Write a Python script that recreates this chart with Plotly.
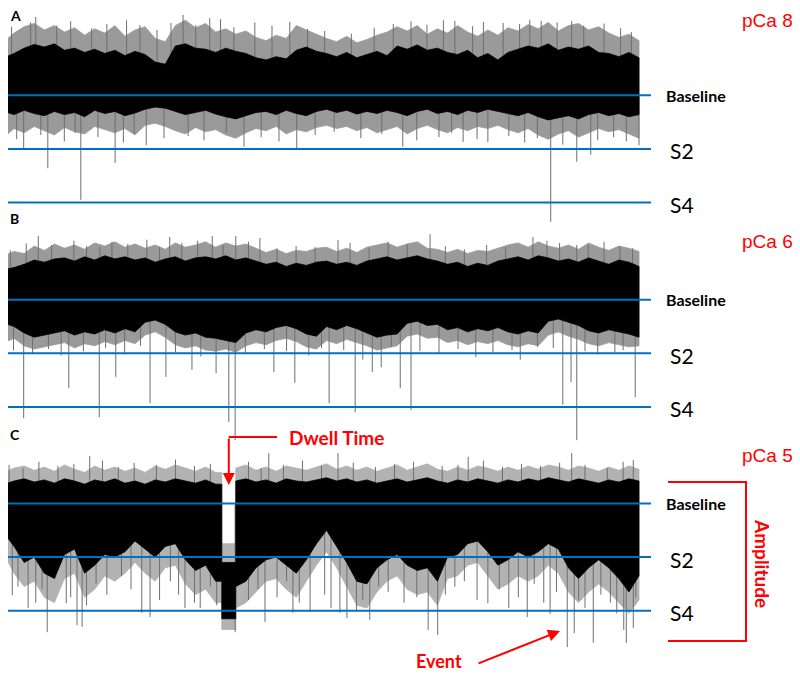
import numpy as np
import plotly.graph_objects as go

# ---------------- data (levels: Baseline = 0, S2 = -1, S4 = -2) ----------------
DURATION = 10.0  # s, length of each recording shown

# Panel A  (pCa 8)
a_core_top = [0.70,0.78,0.88,0.95,0.90,0.96,0.84,0.88,0.80,0.86,0.78,0.84,0.74,0.82,0.76,0.62,
              0.58,0.92,0.96,0.88,0.86,0.80,0.88,0.82,0.78,0.70,0.66,0.72,0.68,0.84,0.90,0.82,
              0.78,0.72,0.80,0.70,0.76,0.82,0.74,0.92,0.86,0.94,0.84,0.88,0.80,0.76,0.84,0.70,
              0.78,0.66,0.80,0.86,0.92,0.88,0.96,0.84,0.90,0.86,0.92,0.80,0.78,0.72,0.80,0.70]
a_core_bot = [-0.30,-0.36,-0.28,-0.34,-0.38,-0.30,-0.36,-0.32,-0.40,-0.28,-0.34,-0.30,-0.38,-0.33,-0.26,-0.22,
              -0.24,-0.30,-0.36,-0.32,-0.28,-0.35,-0.40,-0.44,-0.38,-0.32,-0.30,-0.36,-0.28,-0.34,-0.38,-0.30,
              -0.26,-0.32,-0.28,-0.35,-0.30,-0.34,-0.28,-0.32,-0.38,-0.30,-0.26,-0.34,-0.30,-0.36,-0.28,-0.32,
              -0.26,-0.30,-0.34,-0.38,-0.32,-0.40,-0.46,-0.42,-0.38,-0.44,-0.36,-0.32,-0.38,-0.34,-0.40,-0.36]
a_fringe_top = [1.00,1.16,1.28,1.34,1.22,1.30,1.18,1.26,1.12,1.24,1.16,1.30,1.10,1.22,1.28,1.06,
                1.00,1.30,1.40,1.26,1.34,1.18,1.24,1.14,1.20,1.08,1.02,1.12,1.06,1.30,1.22,1.14,
                1.06,1.00,1.10,0.98,1.04,1.12,1.18,1.28,1.20,1.30,1.14,1.24,1.16,1.30,1.18,1.10,
                1.22,1.12,1.26,1.20,1.32,1.24,1.36,1.20,1.30,1.34,1.22,1.28,1.16,1.08,1.14,1.02]
a_fringe_bot = [-0.78,-0.62,-0.70,-0.58,-0.66,-0.74,-0.60,-0.68,-0.72,-0.58,-0.64,-0.70,-0.62,-0.74,-0.56,-0.52,
                -0.58,-0.66,-0.72,-0.60,-0.68,-0.64,-0.74,-0.80,-0.70,-0.62,-0.66,-0.58,-0.72,-0.64,-0.68,-0.60,
                -0.56,-0.62,-0.58,-0.66,-0.60,-0.70,-0.64,-0.58,-0.72,-0.62,-0.56,-0.64,-0.70,-0.60,-0.66,-0.58,
                -0.62,-0.56,-0.64,-0.70,-0.62,-0.74,-0.82,-0.72,-0.66,-0.78,-0.70,-0.62,-0.68,-0.64,-0.72,-0.80]
a_spike_t = [0.00,0.31,0.69,1.21,1.75,2.24,3.78,4.61,6.28,7.23,7.62,8.61,9.02,9.24,10.0,
             0.50,2.14,2.82,3.24,4.50,6.13,7.10,7.86,8.46,8.94,
             0.12,0.42,0.83,1.05,1.38,1.62,1.93,2.41,2.63,3.02,3.41,3.62,3.95,4.22,4.78,5.05,5.47,5.83,
             6.41,6.66,6.92,7.38,7.55,8.12,8.28,8.71,9.13,9.45,9.71,9.88,
             0.20,0.58,0.95,1.12,1.48,1.88,2.05,2.52,2.90,3.15,3.50,4.05,4.33,4.90,5.20,5.62,5.95,6.50,
             6.85,7.05,7.45,7.95,8.20,8.40,8.80,9.35,9.60,9.80]
a_spike_tip = [-0.78,-1.02,-1.36,-1.95,-1.26,-0.93,-0.96,-1.02,-0.96,-0.87,-0.87,-2.36,-1.24,-1.11,-0.93,
               1.46,1.31,1.50,1.44,1.37,1.33,1.39,1.35,1.39,1.39,
               1.28,1.36,1.30,1.38,1.25,1.33,1.40,1.22,1.35,1.31,1.42,1.27,1.36,1.30,1.24,1.20,1.15,1.26,
               1.38,1.32,1.40,1.29,1.37,1.33,1.41,1.36,1.30,1.34,1.25,1.18,
               -0.82,-0.74,-0.86,-0.70,-0.78,-0.88,-0.72,-0.80,-0.76,-0.84,-0.70,-0.78,-0.86,-0.74,-0.68,-0.80,-0.72,-0.84,
               -0.78,-0.70,-0.82,-0.76,-0.88,-0.80,-0.92,-0.84,-0.78,-0.86]

# Panel B  (pCa 6)
b_core_top = [0.56,0.60,0.66,0.74,0.70,0.76,0.78,0.72,0.80,0.74,0.82,0.76,0.80,0.74,0.78,0.70,
              0.76,0.80,0.72,0.78,0.80,0.76,0.82,0.74,0.78,0.72,0.66,0.70,0.62,0.68,0.64,0.70,
              0.72,0.66,0.70,0.64,0.72,0.76,0.80,0.74,0.78,0.82,0.76,0.72,0.66,0.70,0.62,0.68,
              0.64,0.72,0.76,0.80,0.74,0.82,0.78,0.72,0.76,0.70,0.78,0.72,0.66,0.74,0.70,0.62]
b_core_bot = [-0.44,-0.50,-0.62,-0.70,-0.66,-0.62,-0.58,-0.66,-0.60,-0.64,-0.56,-0.62,-0.54,-0.60,-0.42,-0.38,
              -0.46,-0.60,-0.66,-0.62,-0.70,-0.72,-0.76,-0.80,-0.62,-0.56,-0.60,-0.52,-0.48,-0.54,-0.64,-0.68,
              -0.50,-0.56,-0.48,-0.54,-0.62,-0.70,-0.66,-0.64,-0.44,-0.40,-0.48,-0.46,-0.56,-0.52,-0.60,-0.54,
              -0.58,-0.52,-0.60,-0.64,-0.58,-0.62,-0.40,-0.36,-0.42,-0.48,-0.58,-0.62,-0.56,-0.60,-0.64,-0.70]
b_fringe_top = [0.82,0.90,0.86,1.00,0.92,1.04,0.96,1.02,0.94,1.06,1.00,1.08,0.98,1.04,0.96,1.02,
                0.94,1.06,0.98,1.02,1.08,0.98,1.06,1.00,1.04,0.96,0.88,0.94,0.86,0.92,0.90,0.96,
                0.98,0.90,0.96,0.88,0.98,1.02,1.06,0.98,1.04,1.08,0.96,0.94,0.88,0.94,0.86,0.92,
                0.90,0.96,1.02,1.06,0.98,1.08,1.00,0.96,1.02,0.94,1.06,0.98,0.92,1.00,0.96,0.90]
b_fringe_bot = [-0.80,-0.72,-0.86,-0.92,-0.88,-0.84,-0.80,-0.90,-0.82,-0.86,-0.78,-0.84,-0.76,-0.82,-0.66,-0.60,
                -0.70,-0.84,-0.90,-0.86,-0.94,-0.96,-0.92,-0.98,-0.86,-0.80,-0.84,-0.76,-0.72,-0.78,-0.88,-0.92,
                -0.76,-0.82,-0.74,-0.80,-0.86,-0.94,-0.90,-0.86,-0.68,-0.64,-0.72,-0.70,-0.80,-0.76,-0.84,-0.78,
                -0.82,-0.76,-0.84,-0.88,-0.82,-0.86,-0.66,-0.60,-0.68,-0.74,-0.82,-0.86,-0.80,-0.84,-0.88,-0.86]
b_spike_t = [0.00,0.31,1.02,1.50,1.76,2.30,2.55,2.96,3.34,3.54,3.64,4.25,4.58,5.12,5.53,5.65,5.80,5.94,
             6.24,6.41,7.43,8.13,8.80,8.93,9.02,9.62,9.94,
             0.54,1.51,2.61,3.28,3.65,4.03,5.26,6.71,8.33,9.02,
             0.10,0.35,0.75,1.10,1.30,1.70,1.95,2.25,2.45,2.80,3.05,3.45,3.85,4.30,4.60,4.90,5.45,5.75,
             6.05,6.35,6.95,7.25,7.60,7.90,8.55,8.75,9.20,9.45,9.70,9.90,
             0.15,0.45,0.70,0.90,1.25,1.60,1.90,2.15,2.70,3.10,3.80,4.10,4.45,4.80,5.00,5.35,6.10,6.55,
             6.85,7.15,7.70,8.00,8.40,8.65,9.15,9.35,9.75]
b_spike_tip = [-0.90,-2.21,-1.65,-2.19,-1.44,-1.93,-1.44,-1.31,-1.37,-2.28,-2.62,-1.35,-1.55,-1.93,-2.10,-1.12,-1.35,-1.26,
               -1.65,-2.06,-1.07,-1.12,-1.96,-1.54,-2.62,-0.98,-1.82,
               1.19,0.98,1.17,1.19,1.19,1.15,1.11,1.22,1.17,1.02,
               0.92,1.05,1.02,1.10,1.00,1.08,1.04,1.12,0.98,1.06,1.10,1.02,1.08,0.96,1.00,0.98,1.06,0.96,
               1.08,1.04,1.00,0.94,1.02,0.98,1.10,1.06,1.02,1.08,1.00,0.96,
               -0.95,-1.00,-0.92,-1.04,-0.96,-0.90,-1.02,-0.86,-0.98,-1.06,-1.00,-0.92,-0.96,-1.04,-0.90,-0.94,-0.88,-0.96,
               -1.00,-0.92,-0.98,-0.94,-0.88,-0.90,-0.96,-1.02,-0.94]

# Panel C  (pCa 5)
c_core_top = [0.36,0.42,0.46,0.40,0.44,0.38,0.46,0.42,0.36,0.44,0.40,0.46,0.38,0.42,0.36,0.44,
              0.40,0.46,0.42,0.38,0.44,0.36,0.40,0.42,0.46,0.40,0.44,0.38,0.46,0.42,0.40,0.44,
              0.48,0.42,0.46,0.40,0.44,0.38,0.42,0.46,0.40,0.44,0.48,0.42,0.38,0.44,0.40,0.46,
              0.42,0.38,0.44,0.40,0.46,0.42,0.48,0.44,0.40,0.46,0.42,0.38,0.44,0.40,0.46,0.42]
c_core_bot = [-0.55,-0.80,-1.10,-1.00,-1.30,-1.40,-0.95,-0.85,-1.30,-1.15,-0.95,-1.00,-0.90,-0.70,-0.85,-1.00,
              -0.80,-0.75,-1.05,-1.25,-1.15,-1.45,-2.15,-1.55,-1.45,-1.20,-1.05,-1.00,-1.15,-1.30,-1.05,-0.75,
              -0.50,-0.80,-1.10,-1.45,-1.50,-1.20,-1.05,-0.95,-1.15,-1.25,-1.20,-1.45,-1.00,-0.95,-0.75,-0.70,
              -0.90,-1.15,-1.05,-0.90,-1.00,-0.90,-0.75,-0.85,-1.20,-1.40,-1.20,-1.05,-1.20,-1.40,-1.65,-1.35]
c_fringe_top = [0.58,0.66,0.70,0.62,0.68,0.60,0.72,0.64,0.58,0.70,0.62,0.68,0.60,0.66,0.58,0.70,
                0.64,0.72,0.66,0.60,0.68,0.58,0.64,0.66,0.72,0.62,0.68,0.60,0.70,0.66,0.62,0.68,
                0.74,0.64,0.70,0.62,0.68,0.60,0.66,0.72,0.62,0.68,0.74,0.64,0.60,0.68,0.62,0.70,
                0.66,0.60,0.68,0.62,0.70,0.64,0.72,0.68,0.62,0.70,0.66,0.60,0.68,0.62,0.70,0.64]
c_fringe_bot = [-0.95,-1.30,-1.55,-1.45,-1.75,-1.85,-1.40,-1.30,-1.75,-1.60,-1.35,-1.45,-1.30,-1.10,-1.30,-1.45,
                -1.20,-1.15,-1.50,-1.70,-1.60,-1.85,-2.40,-1.95,-1.85,-1.65,-1.45,-1.40,-1.60,-1.75,-1.45,-1.15,
                -0.90,-1.20,-1.55,-1.90,-1.95,-1.65,-1.45,-1.35,-1.60,-1.70,-1.65,-1.90,-1.40,-1.35,-1.15,-1.10,
                -1.35,-1.60,-1.50,-1.35,-1.45,-1.35,-1.15,-1.30,-1.65,-1.85,-1.65,-1.50,-1.65,-1.85,-2.05,-1.80]
c_spike_t = [0.13,0.38,0.68,0.98,1.15,1.23,2.17,2.30,2.85,3.09,3.64,4.11,4.55,4.82,5.29,5.40,5.76,
             6.68,6.83,7.62,8.24,8.60,8.87,8.98,9.28,9.76,9.80,9.91,
             1.35,4.17,5.26,7.31,8.94,9.91,
             0.08,0.30,0.55,0.85,1.10,1.55,1.80,2.05,2.40,2.70,3.00,3.25,3.85,4.05,4.40,4.70,5.00,5.50,
             5.85,6.15,6.45,6.90,7.15,7.55,7.85,8.15,8.45,8.75,9.15,9.50,9.75,
             0.05,0.22,0.50,0.60,0.80,1.05,1.30,1.45,1.62,1.85,2.00,2.45,2.62,2.75,3.00,3.25,3.35,3.85,
             4.00,4.30,4.45,4.65,5.05,5.15,5.55,5.65,5.90,6.05,6.30,6.50,6.95,7.10,7.25,7.45,7.80,7.95,
             8.10,8.35,8.50,8.70,9.05,9.15,9.40,9.55,9.65,9.95]
c_spike_tip = [-1.71,-1.95,-2.40,-1.86,-2.27,-2.30,-2.04,-2.12,-1.95,-1.95,-2.40,-2.21,-2.04,-2.02,-2.04,-2.14,-2.17,
               -2.36,-2.45,-1.86,-2.12,-2.06,-2.68,-2.42,-2.60,-2.36,-2.60,-2.32,
               0.89,0.94,0.94,0.87,0.94,0.81,
               0.72,0.66,0.78,0.70,0.74,0.80,0.68,0.76,0.72,0.82,0.70,0.74,0.78,0.66,0.72,0.80,0.70,0.76,
               0.68,0.74,0.78,0.70,0.72,0.80,0.68,0.74,0.70,0.76,0.72,0.66,0.78,
               -1.20,-1.55,-1.85,-1.60,-1.40,-1.75,-1.90,-1.50,-1.70,-1.35,-1.60,-1.80,-1.45,-1.70,-1.85,-1.55,-1.90,-1.80,
               -1.60,-1.75,-1.45,-1.85,-1.70,-1.95,-2.00,-1.80,-1.55,-1.65,-1.85,-1.75,-1.70,-1.55,-1.45,-1.80,-1.60,-1.95,
               -1.75,-1.50,-1.85,-1.65,-1.80,-1.95,-1.70,-1.85,-2.05,-1.75]
# dwell (closed interval) in panel C
c_dwell_start, c_dwell_end = 3.43, 3.65
c_dwell_core_top, c_dwell_fringe_top = -1.10, -0.75
c_dwell_core_bot, c_dwell_fringe_bot = -2.15, -2.35

state_levels = [0, -1, -2]
state_names = ["Baseline", "S2", "S4"]
panel_letters = ["A", "B", "C"]
panel_pca = ["pCa 8", "pCa 6", "pCa 5"]

# ---------------- geometry of the page ----------------
OFF = 8                       # the page body margin
W, H = 800 - OFF, 674 - OFF   # figure size
X0_PX, PX_PER_S = 4.0, 63.5
BASE_PX = [95.3, 299.7, 503.5]
PX_PER_LEVEL = 53.6
Y_LO, Y_HI = -2.75, 1.6


def xd(px):
    return (px - X0_PX) / PX_PER_S


def lv(k, py):
    return (BASE_PX[k] - py) / PX_PER_LEVEL


def xp(px):
    return (px - OFF) / W


def yp(py):
    return 1 - (py - OFF) / H


YAX = ["y", "y2", "y3"]
FRINGE = ["#9a9a9a", "#9a9a9a", "#b2b2b2"]
SPIKE = "#6e6e6e"
BLUE = "#0070C0"
RED = "#FF0000"
CAL = "Lato, Carlito, Calibri, sans-serif"

fig = go.Figure()


def polygon(tt_top, yy_top, tt_bot, yy_bot, color, yax):
    x = list(tt_top) + list(tt_bot)[::-1]
    y = list(yy_top) + list(yy_bot)[::-1]
    fig.add_trace(go.Scatter(x=x, y=y, mode="lines", fill="toself", fillcolor=color,
                             line=dict(color=color, width=0.8), yaxis=yax,
                             hoverinfo="skip", showlegend=False))


def gapped(t, vals, start, end, level):
    tt, yy = [], []
    for ti, vi in zip(t, vals):
        if ti < start:
            tt.append(ti); yy.append(vi)
    after = [(ti, vi) for ti, vi in zip(t, vals) if ti > end]
    tt += [start, start, end, end]
    yy += [yy[-1], level, level, after[0][1]]
    for ti, vi in after:
        tt.append(ti); yy.append(vi)
    return tt, yy


panels = [
    (a_core_top, a_core_bot, a_fringe_top, a_fringe_bot, a_spike_t, a_spike_tip),
    (b_core_top, b_core_bot, b_fringe_top, b_fringe_bot, b_spike_t, b_spike_tip),
    (c_core_top, c_core_bot, c_fringe_top, c_fringe_bot, c_spike_t, c_spike_tip),
]

for k, (ct, cb, ft, fb, st, sp) in enumerate(panels):
    t = np.linspace(0, DURATION, len(ct))
    yax = YAX[k]
    # gray fringe
    if k == 2:
        t1, y1 = gapped(t, ft, c_dwell_start, c_dwell_end, c_dwell_fringe_top)
        t2, y2 = gapped(t, fb, c_dwell_start, c_dwell_end, c_dwell_fringe_bot)
        polygon(t1, y1, t2, y2, FRINGE[k], yax)
    else:
        polygon(t, ft, t, fb, FRINGE[k], yax)
    # spikes
    xs, ys = [], []
    for ti, tip in zip(st, sp):
        xs += [ti, ti, None]
        ys += [0, tip, None]
    fig.add_trace(go.Scatter(x=xs, y=ys, mode="lines", line=dict(color=SPIKE, width=1),
                             yaxis=yax, hoverinfo="skip", showlegend=False))
    # black core
    if k == 2:
        t1, y1 = gapped(t, ct, c_dwell_start, c_dwell_end, c_dwell_core_top)
        t2, y2 = gapped(t, cb, c_dwell_start, c_dwell_end, c_dwell_core_bot)
        polygon(t1, y1, t2, y2, "#000000", yax)
    else:
        polygon(t, ct, t, cb, "#000000", yax)

shapes = []
annotations = []
for k in range(3):
    yax = YAX[k]
    for lvl, name in zip(state_levels, state_names):
        shapes.append(dict(type="line", xref="x", yref=yax, x0=xd(0), x1=xd(651), y0=lvl, y1=lvl,
                           line=dict(color=BLUE, width=2), layer="above"))
        if name == "Baseline":
            annotations.append(dict(text="<b>Baseline</b>", xref="paper", yref=yax, x=xp(664), y=lvl,
                                    xanchor="left", yanchor="middle", showarrow=False,
                                    font=dict(family=CAL, size=16, color="#000000")))
        else:
            annotations.append(dict(text=name, xref="paper", yref=yax, x=xp(668), y=lvl, yshift=-2,
                                    xanchor="left", yanchor="middle", showarrow=False,
                                    font=dict(family=CAL, size=21, color="#000000")))

letter_py = [15, 218, 434]
pca_py = [None, 242, 455]
for k in range(3):
    annotations.append(dict(text="<b>%s</b>" % panel_letters[k], xref="paper", yref="paper",
                            x=xp(OFF), y=yp(letter_py[k]), xanchor="left", yanchor="middle",
                            showarrow=False, font=dict(family=CAL, size=14, color="#000000")))
    if pca_py[k] is None:
        pos = dict(y=1.0, yanchor="top")
    else:
        pos = dict(y=yp(pca_py[k]), yanchor="middle")
    annotations.append(dict(text=panel_pca[k], xref="paper", yref="paper",
                            x=xp(740), xanchor="left", showarrow=False,
                            font=dict(family="Liberation Sans, Arial, sans-serif", size=19, color=RED),
                            **pos))

# Dwell time callout
dwell_mid = 0.5 * (c_dwell_start + c_dwell_end)
shapes.append(dict(type="line", xref="x", yref="y3", x0=dwell_mid, x1=xd(277),
                   y0=lv(2, 437), y1=lv(2, 437), line=dict(color=RED, width=2)))
annotations.append(dict(text="", x=dwell_mid, y=lv(2, 485), xref="x", yref="y3",
                        ax=0, ay=-48, axref="pixel", ayref="pixel", showarrow=True,
                        arrowhead=2, arrowsize=1.2, arrowwidth=2, arrowcolor=RED, standoff=0))
annotations.append(dict(text="<b>Dwell Time</b>", xref="paper", yref="paper", x=xp(287), y=yp(437),
                        xanchor="left", yanchor="middle", showarrow=False,
                        font=dict(family=CAL, size=19, color=RED)))

# Event callout
annotations.append(dict(text="", x=xd(560), y=lv(2, 631), xref="x", yref="y3",
                        ax=-83, ay=33, axref="pixel", ayref="pixel", showarrow=True,
                        arrowhead=2, arrowsize=1.2, arrowwidth=2, arrowcolor=RED, standoff=0))
annotations.append(dict(text="<b>Event</b>", xref="paper", yref="paper", x=xp(414), y=0.0,
                        xanchor="left", yanchor="bottom", showarrow=False,
                        font=dict(family=CAL, size=18, color=RED)))

# Amplitude bracket
shapes.append(dict(type="path", xref="paper", yref="paper",
                   path="M %f,%f L %f,%f L %f,%f L %f,%f" % (xp(668), yp(482), xp(746), yp(482),
                                                             xp(746), yp(641), xp(668), yp(641)),
                   line=dict(color=RED, width=2)))
annotations.append(dict(text="<b>Amplitude</b>", xref="paper", yref="paper", x=xp(763), y=yp(563),
                        xanchor="center", yanchor="middle", textangle=90, showarrow=False,
                        font=dict(family=CAL, size=19, color=RED)))

layout = dict(width=W, height=H, margin=dict(l=0, r=0, t=0, b=0),
              paper_bgcolor="white", plot_bgcolor="rgba(0,0,0,0)", showlegend=False,
              shapes=shapes, annotations=annotations,
              xaxis=dict(range=[xd(OFF), xd(800)], domain=[0, 1], visible=False, fixedrange=True))
for k in range(3):
    key = "yaxis" if k == 0 else "yaxis%d" % (k + 1)
    lo_px = BASE_PX[k] - Y_LO * PX_PER_LEVEL
    hi_px = BASE_PX[k] - Y_HI * PX_PER_LEVEL
    layout[key] = dict(range=[Y_LO, Y_HI], domain=[yp(lo_px), yp(hi_px)], anchor="x",
                       visible=False, fixedrange=True)
fig.update_layout(**layout)
fig.write_html("out.html")
